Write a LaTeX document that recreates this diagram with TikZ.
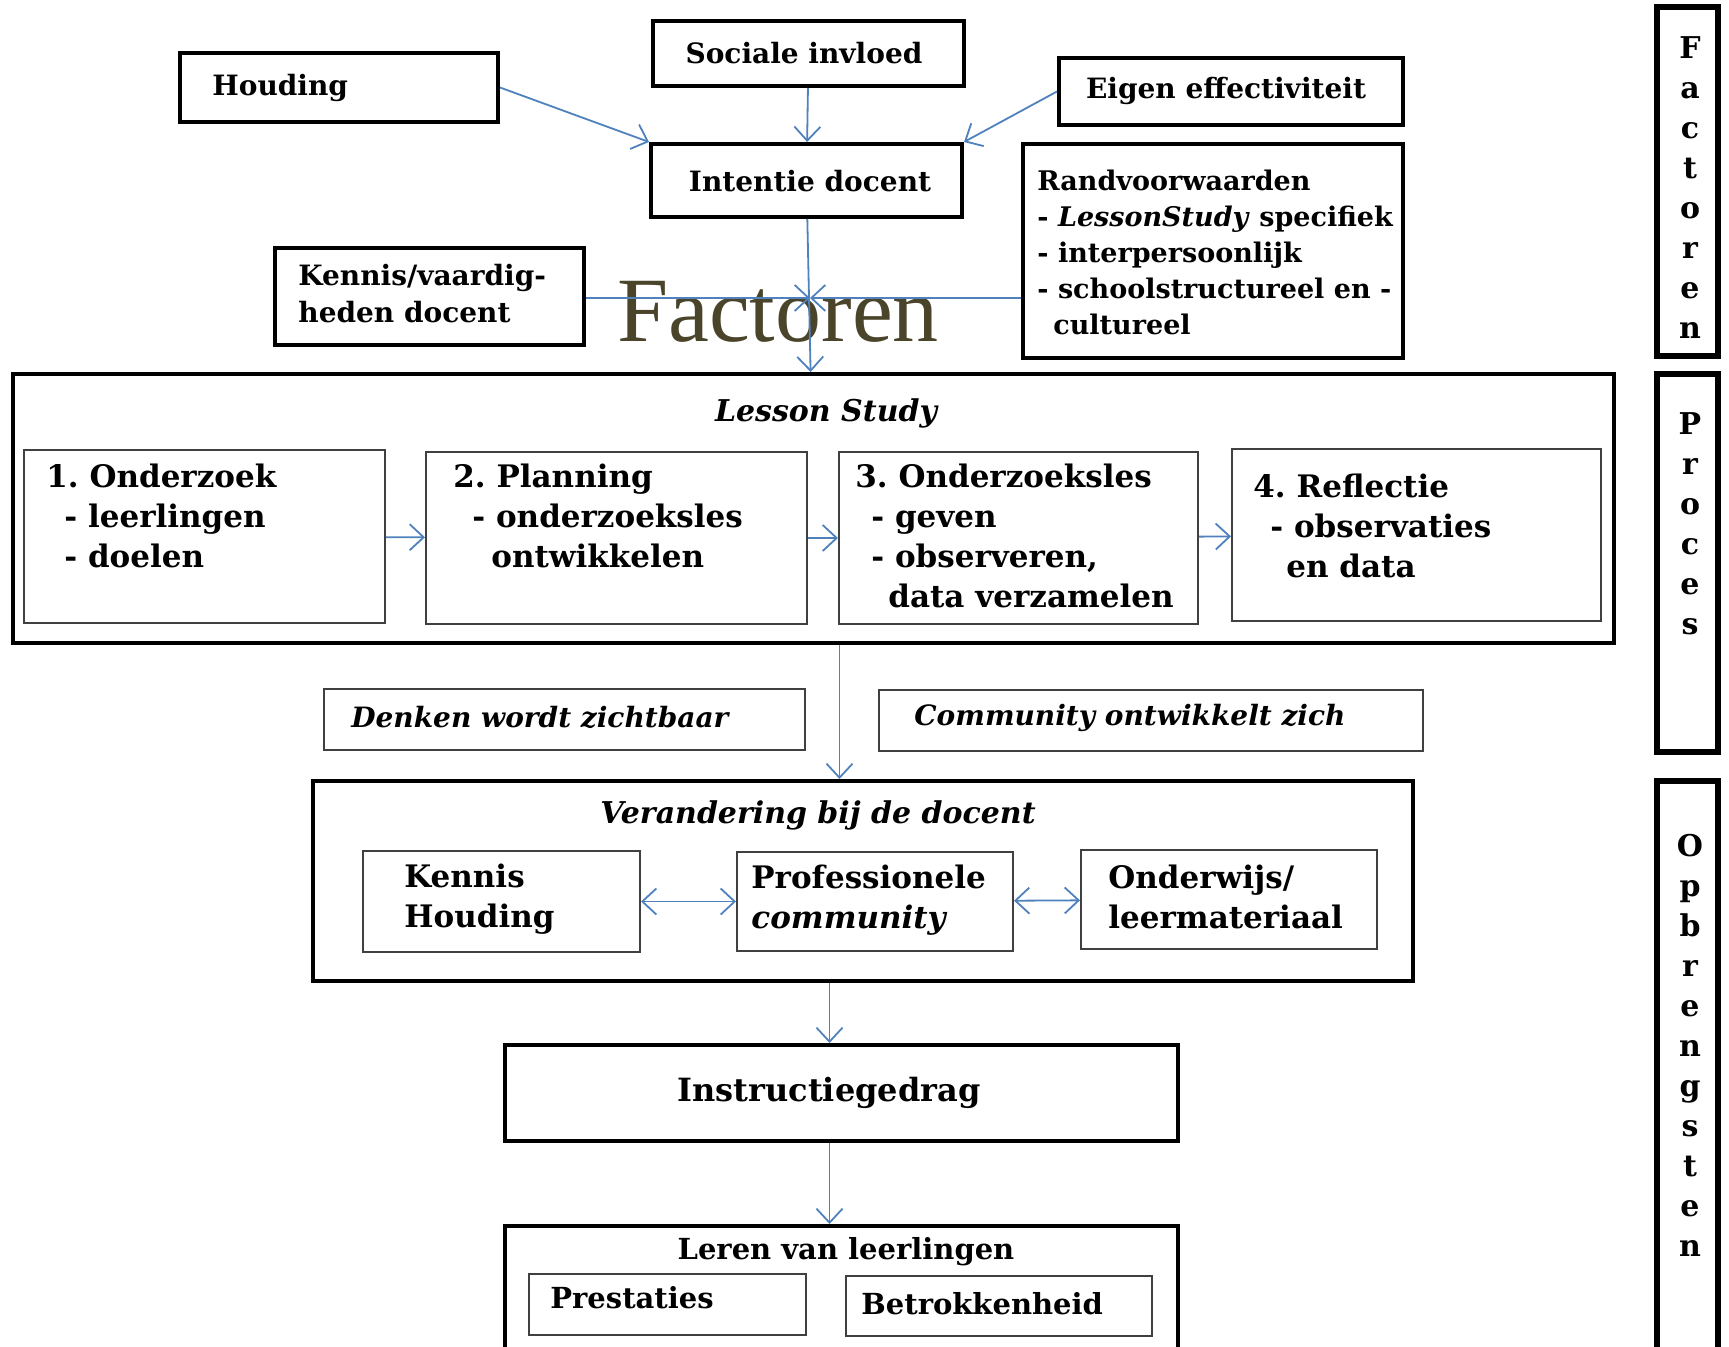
\documentclass[tikz,border=0pt]{standalone}
\usepackage{fontspec}
\setmainfont{DejaVu Serif}
\newfontfamily\timesfont{Liberation Serif}
\frenchspacing
\usetikzlibrary{arrows.meta, fit}
\definecolor{arrowblue}{RGB}{79,129,189}
\definecolor{olivetext}{RGB}{74,68,42}

\tikzset{
  px/.style={x=0.5pt, y=-0.5pt},
  arr/.style={draw=arrowblue, line width=0.9pt, -{Straight Barb[length=7pt, width=13pt]}},
  dblarr/.style={draw=arrowblue, line width=0.9pt, {Straight Barb[length=7pt, width=13pt]}-{Straight Barb[length=7pt, width=13pt]}},
  thickbox/.style={draw, line width=2pt, inner sep=0pt},
  thinbox/.style={draw=black!75, line width=1pt, inner sep=0pt},
  sidebox/.style={draw, line width=3pt, inner sep=0pt},
  lbl/.style={font=\bfseries\fontsize{14}{18.5}\selectfont, inner sep=0pt, align=left},
  steptxt/.style={font=\bfseries\fontsize{15.5}{20}\selectfont, inner sep=0pt, align=left},
  ttl/.style={font=\bfseries\itshape\fontsize{15}{18}\selectfont, inner sep=0pt},
  sidetxt/.style={font=\bfseries\fontsize{15}{20}\selectfont, inner sep=0pt, align=center}
}

\begin{document}
\begin{tikzpicture}[px]
\useasboundingbox (0,0) rectangle (1729,1347);
\clip (0,0) rectangle (1729,1347);

% factoren
\node[thickbox, fit={(180,53) (498,122)}] (houding) {};
\node[lbl, anchor=west] (houdingtxt) at (212,88) {Houding};
\node[thickbox, fit={(653,21) (964,86)}] (sociale) {};
\node[lbl] (socialetxt) at (804,53) {Sociale invloed};
\node[thickbox, fit={(1059,58) (1403,125)}] (eigen) {};
\node[lbl] (eigentxt) at (1226,91) {Eigen effectiviteit};
\node[thickbox, fit={(651,144) (962,217)}] (intentie) {};
\node[lbl] (intentietxt) at (810,181) {Intentie docent};
\node[thickbox, fit={(275,248) (584,345)}] (kennis) {};
\node[lbl, anchor=west] (kennistxt) at (298,294) {Kennis/vaardig-\\heden docent};
\node[thickbox, fit={(1023,144) (1403,358)}] (rand) {};
\node[lbl, anchor=west, font=\bfseries\fontsize{13.5}{18}\selectfont] (randtxt) at (1037,252)
  {Randvoorwaarden\\- \textit{LessonStudy} specifiek\\- interpersoonlijk\\- schoolstructureel en -\\\hspace*{8pt}cultureel};
\node[font=\timesfont\fontsize{46}{46}\selectfont, text=olivetext, anchor=base, inner sep=0pt] (factoren) at (778,342) {Factoren};

\draw[arr] (houding.east) -- (intentie.north west);
\draw[arr] (sociale) -- (intentie);
\draw[arr] (eigen.west) -- (intentie.north east);
\coordinate (kruis) at (810,298);
\draw[arr] (kennis.east |- kruis) -- (kruis);
\draw[arr] (rand.west |- kruis) -- (kruis);

% proces
\node[thickbox, fit={(13,374) (1614,643)}] (lesson) {};
\node[ttl] (lessontxt) at (826,413) {Lesson Study};
\draw[arr] (intentie) -- (lesson);
\node[thinbox, fit={(24,450) (385,623)}] (stap1) {};
\node[steptxt, anchor=west] (stap1txt) at (46,516) {1. Onderzoek\\\hspace*{9pt}- leerlingen\\\hspace*{9pt}- doelen};
\node[thinbox, fit={(426,452) (807,624)}] (stap2) {};
\node[steptxt, anchor=west] (stap2txt) at (453,516) {2. Planning\\\hspace*{9.5pt}- onderzoeksles\\\hspace*{19pt}ontwikkelen};
\node[thinbox, fit={(839,452) (1198,624)}] (stap3) {};
\node[steptxt, anchor=west] (stap3txt) at (855,536) {3. Onderzoeksles\\\hspace*{8pt}- geven\\\hspace*{8pt}- observeren,\\\hspace*{16.5pt}data verzamelen};
\node[thinbox, fit={(1232,449) (1601,621)}] (stap4) {};
\node[steptxt, anchor=west] (stap4txt) at (1253,526) {4. Reflectie\\\hspace*{8.5pt}- observaties\\\hspace*{16.5pt}en data};
\draw[arr] (stap1) -- (stap2);
\draw[arr] (stap2) -- (stap3);
\draw[arr] (stap3) -- (stap4);

\node[thinbox, fit={(324,689) (805,750)}] (denken) {};
\node[ttl, anchor=west, font=\bfseries\itshape\fontsize{14}{18}\selectfont] (denkentxt) at (351,717) {Denken wordt zichtbaar};
\node[thinbox, fit={(879,690) (1423,751)}] (community) {};
\node[ttl, anchor=west, font=\bfseries\itshape\fontsize{14}{18}\selectfont] (communitytxt) at (914,718) {Community ontwikkelt zich};

% opbrengsten
\node[thickbox, fit={(313,781) (1413,981)}] (verandering) {};
\node[ttl] (veranderingtxt) at (818,815) {Verandering bij de docent};
\draw[arr] ([xshift=13pt]lesson.south) -- ([xshift=13pt]lesson.south |- verandering.north);
\node[thinbox, fit={(363,851) (640,952)}] (kh) {};
\node[steptxt, anchor=west] (khtxt) at (404,899) {Kennis\\Houding};
\node[thinbox, fit={(737,852) (1013,951)}] (pc) {};
\node[steptxt, anchor=west] (pctxt) at (751,900) {Professionele\\\textit{community}};
\node[thinbox, fit={(1081,850) (1377,949)}] (ol) {};
\node[steptxt, anchor=west] (oltxt) at (1108,897) {Onderwijs/\\leermateriaal};
\draw[dblarr] (kh) -- (pc);
\draw[dblarr] (pc) -- (ol);

\node[thickbox, fit={(505,1045) (1178,1141)}] (instr) {};
\node[steptxt, font=\bfseries\fontsize{16}{20}\selectfont] (instrtxt) at (829,1093) {Instructiegedrag};
\draw[arr] ([xshift=-6pt]instr.north |- verandering.south) -- ([xshift=-6pt]instr.north);

\node[thickbox, fit={(505,1226) (1178,1420)}] (leren) {};
\node[lbl, font=\bfseries\fontsize{14.5}{18}\selectfont] (lerentxt) at (846,1252) {Leren van leerlingen};
\draw[arr] ([xshift=-6pt]instr.south) -- ([xshift=-6pt]instr.south |- leren.north);
\node[thinbox, fit={(529,1274) (806,1335)}] (prest) {};
\node[lbl, anchor=west, font=\bfseries\fontsize{14.5}{18}\selectfont] (presttxt) at (550,1298) {Prestaties};
\node[thinbox, fit={(846,1276) (1152,1336)}] (betr) {};
\node[lbl, anchor=west, font=\bfseries\fontsize{14.5}{18}\selectfont] (betrtxt) at (861,1304) {Betrokkenheid};

% zijbalk
\node[sidebox, fit={(1657,7) (1718,356)}] (fbar) {};
\node[sidetxt, anchor=north] (fbartxt) at (1690,36) {F\\a\\c\\t\\o\\r\\e\\n};
\node[sidebox, fit={(1657,374) (1718,752)}] (pbar) {};
\node[sidetxt, anchor=north] (pbartxt) at (1690,412) {P\\r\\o\\c\\e\\s};
\node[sidebox, fit={(1657,781) (1718,1420)}] (obar) {};
\node[sidetxt, anchor=north] (obartxt) at (1690,834) {O\\p\\b\\r\\e\\n\\g\\s\\t\\e\\n};
\end{tikzpicture}
\end{document}
